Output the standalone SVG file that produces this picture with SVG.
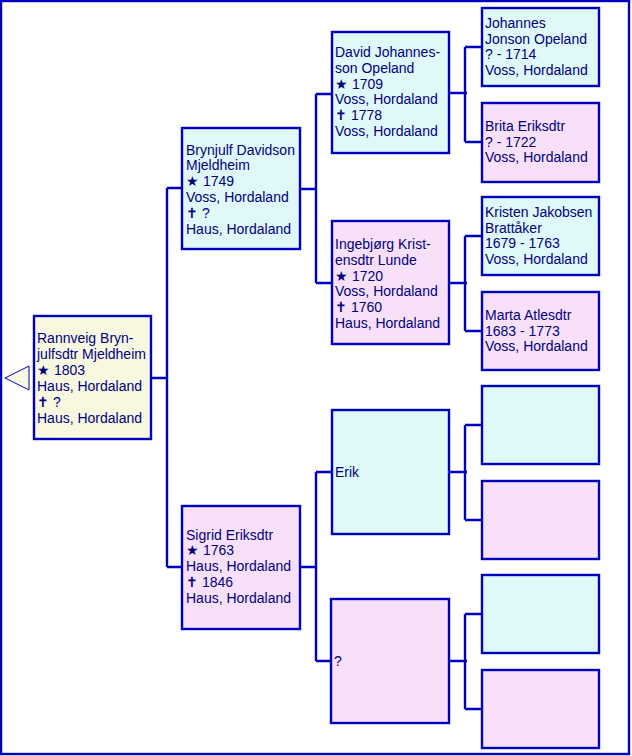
<svg xmlns="http://www.w3.org/2000/svg" width="632" height="756" viewBox="0 0 632 756">
<style>
.b{stroke:#0000c0;stroke-width:2.4}
.m{fill:#e0f8f8}
.f{fill:#f8e0f8}
.r{fill:#f8f8e0}
.c{fill:none;stroke:#0000c0;stroke-width:2.4}
text{font-family:"Liberation Sans",Arial,sans-serif;font-size:14px;fill:#000080}
</style>
<rect x="1" y="1" width="628" height="753" fill="#ffffff" stroke="#0000c0" stroke-width="2.4"/>
<g id="connectors" class="c">
<path d="M151 378H167M167 188V567M167 188H182M167 567H182"/>
<path d="M300 189H316M316 94V283M316 94H332M316 283H332"/>
<path d="M300 567H316M316 472V661M316 472H332M316 661H331"/>
<path d="M449 93H467M465 47V142M465 47H482M465 142H482"/>
<path d="M449 283H467M465 236V331M465 236H482M465 331H482"/>
<path d="M449 472H467M465 425V520M465 425H482M465 520H482"/>
<path d="M449 661H467M465 614V709M465 614H482M465 709H482"/>
</g>
<g id="root">
<polygon points="5,378 29,366 29,390" fill="#f8f8e0" stroke="#0000c0" stroke-width="1"/>
<rect class="b r" x="34" y="316" width="117" height="123"/>
<text x="37"><tspan x="37" y="343">Rannveig Bryn-</tspan><tspan x="37" y="359">julfsdtr Mjeldheim</tspan><tspan x="37" y="375">★ 1803</tspan><tspan x="37" y="391">Haus, Hordaland</tspan><tspan x="37" y="407">✝ ?</tspan><tspan x="37" y="423">Haus, Hordaland</tspan></text>
</g>
<g id="brynjulf">
<rect class="b m" x="182" y="128" width="118" height="121"/>
<text><tspan x="186" y="154.5">Brynjulf Davidson</tspan><tspan x="186" y="170.3">Mjeldheim</tspan><tspan x="186" y="186.1">★ 1749</tspan><tspan x="186" y="201.9">Voss, Hordaland</tspan><tspan x="186" y="217.7">✝ ?</tspan><tspan x="186" y="233.5">Haus, Hordaland</tspan></text>
</g>
<g id="sigrid">
<rect class="b f" x="182" y="506" width="118" height="123"/>
<text><tspan x="186" y="539.5">Sigrid Eriksdtr</tspan><tspan x="186" y="555.3">★ 1763</tspan><tspan x="186" y="571.1">Haus, Hordaland</tspan><tspan x="186" y="586.9">✝ 1846</tspan><tspan x="186" y="602.7">Haus, Hordaland</tspan></text>
</g>
<g id="david">
<rect class="b m" x="332" y="32" width="117" height="121"/>
<text><tspan x="335" y="57">David Johannes-</tspan><tspan x="335" y="72.8">son Opeland</tspan><tspan x="335" y="88.6">★ 1709</tspan><tspan x="335" y="104.4">Voss, Hordaland</tspan><tspan x="335" y="120.2">✝ 1778</tspan><tspan x="335" y="136">Voss, Hordaland</tspan></text>
</g>
<g id="ingebjorg">
<rect class="b f" x="332" y="221" width="117" height="123"/>
<text><tspan x="335" y="249">Ingebjørg Krist-</tspan><tspan x="335" y="264.8">ensdtr Lunde</tspan><tspan x="335" y="280.6">★ 1720</tspan><tspan x="335" y="296.4">Voss, Hordaland</tspan><tspan x="335" y="312.2">✝ 1760</tspan><tspan x="335" y="328">Haus, Hordaland</tspan></text>
</g>
<g id="erik">
<rect class="b m" x="332" y="410" width="117" height="124"/>
<text x="335" y="476.5">Erik</text>
</g>
<g id="unknown">
<rect class="b f" x="331" y="599" width="118" height="124"/>
<text x="334" y="665.5">?</text>
</g>
<g id="johannes">
<rect class="b m" x="482" y="8" width="117" height="78"/>
<text><tspan x="485" y="27.8">Johannes</tspan><tspan x="485" y="43.6">Jonson Opeland</tspan><tspan x="485" y="59.4">? - 1714</tspan><tspan x="485" y="75.2">Voss, Hordaland</tspan></text>
</g>
<g id="brita">
<rect class="b f" x="482" y="103" width="117" height="79"/>
<text><tspan x="485" y="130.7">Brita Eriksdtr</tspan><tspan x="485" y="146.5">? - 1722</tspan><tspan x="485" y="162.3">Voss, Hordaland</tspan></text>
</g>
<g id="kristen">
<rect class="b m" x="482" y="197" width="117" height="78"/>
<text><tspan x="485" y="216.8">Kristen Jakobsen</tspan><tspan x="485" y="232.6">Brattåker</tspan><tspan x="485" y="248.4">1679 - 1763</tspan><tspan x="485" y="264.2">Voss, Hordaland</tspan></text>
</g>
<g id="marta">
<rect class="b f" x="482" y="292" width="117" height="78"/>
<text><tspan x="485" y="319.7">Marta Atlesdtr</tspan><tspan x="485" y="335.5">1683 - 1773</tspan><tspan x="485" y="351.3">Voss, Hordaland</tspan></text>
</g>
<g id="erik-father">
<rect class="b m" x="482" y="386" width="117" height="78"/>
</g>
<g id="erik-mother">
<rect class="b f" x="482" y="481" width="117" height="78"/>
</g>
<g id="unknown-father">
<rect class="b m" x="482" y="575" width="117" height="78"/>
</g>
<g id="unknown-mother">
<rect class="b f" x="482" y="670" width="117" height="78"/>
</g>
</svg>
